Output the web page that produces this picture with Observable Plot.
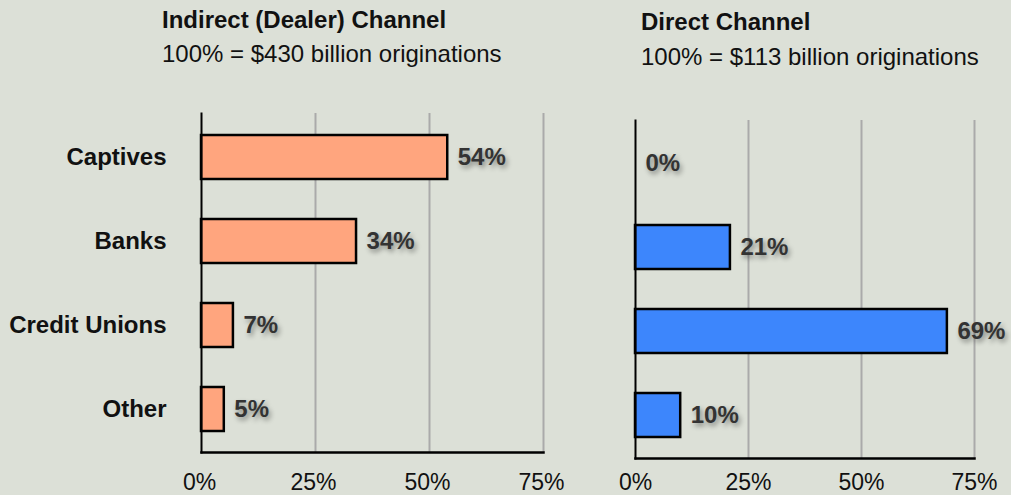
<!DOCTYPE html>
<html>
<head>
<meta charset="utf-8">
<script src="https://cdn.jsdelivr.net/npm/d3@7"></script>
<script src="https://cdn.jsdelivr.net/npm/@observablehq/plot@0.6"></script>
<style>
  html, body { margin: 0; padding: 0; background: #dce0d7; }
  body { width: 1011px; height: 495px; position: relative; overflow: hidden;
         font-family: "Liberation Sans", Arial, Helvetica, sans-serif; }
  .title, .sub { position: absolute; font-size: 24px; line-height: 24px; color: #111; white-space: nowrap; }
  .title { font-weight: bold; }
  .panel { position: absolute; top: 0; }
  .val text { text-shadow: 2px 3px 5px rgba(0,0,0,0.4); }
</style>
</head>
<body>
<div class="title" style="left:162px;top:8px">Indirect (Dealer) Channel</div>
<div class="sub" style="left:162px;top:42px">100% = $430 billion originations</div>
<div class="title" style="left:641px;top:10px">Direct Channel</div>
<div class="sub" style="left:641px;top:45px">100% = $113 billion originations</div>
<div id="left" class="panel" style="left:0px"></div>
<div id="right" class="panel" style="left:560px"></div>
<script>
const categories = ["Captives", "Banks", "Credit Unions", "Other"];
const indirectShares = [54, 34, 7, 5];
const directShares = [0, 21, 69, 10];
const xTicks = [0, 25, 50, 75];
const gridTicks = [25, 50, 75];

const indirectData = categories.map((c, i) => ({category: c, value: indirectShares[i]}));
const directData = categories.map((c, i) => ({category: c, value: directShares[i]}));

const FONT = '"Liberation Sans", Arial, Helvetica, sans-serif';

function panel(data, fill, opts) {
  const marks = [
    Plot.ruleX(gridTicks, {stroke: "#aaaaaa", strokeWidth: 2}),
    Plot.barX(data, {x: "value", y: "category", fill, stroke: "black", strokeWidth: 2.5}),
    Plot.frame({anchor: "left", stroke: "black", strokeWidth: 2}),
    Plot.frame({anchor: "bottom", stroke: "black", strokeWidth: 2.5}),
    Plot.text(data, {x: "value", y: "category", text: d => d.value + "%", dx: 10,
      textAnchor: "start", fontWeight: "bold", fontSize: 24, fill: "#333", className: "val"}),
    Plot.axisX(xTicks, {tickFormat: d => d + "%", tickSize: 0, tickPadding: opts.tickPadding,
      fontSize: 23, label: null, fill: "#111", dx: opts.tickDx})
  ];
  if (opts.showY) {
    marks.push(Plot.axisY({tickSize: 0, tickPadding: 35, fontSize: 24, fontWeight: "bold",
      label: null, fill: "#111"}));
  }
  return Plot.plot({
    width: opts.width, height: 495,
    marginLeft: opts.marginLeft, marginRight: opts.marginRight,
    marginTop: opts.marginTop, marginBottom: opts.marginBottom,
    style: {background: "transparent", fontFamily: FONT, overflow: "visible"},
    x: {domain: [0, 75]},
    y: {domain: categories, paddingInner: 0.48, paddingOuter: 0.24, axis: opts.showY ? undefined : null},
    marks
  });
}

document.getElementById("left").append(panel(indirectData, "#ffa57e",
  {width: 560, marginLeft: 201, marginRight: 17, marginTop: 113, marginBottom: 43, tickPadding: 21, tickDx: -2, showY: true}));
document.getElementById("right").append(panel(directData, "#3d86fc",
  {width: 451, marginLeft: 75, marginRight: 37, marginTop: 120, marginBottom: 37, tickPadding: 15, tickDx: 0, showY: false}));
</script>
</body>
</html>
